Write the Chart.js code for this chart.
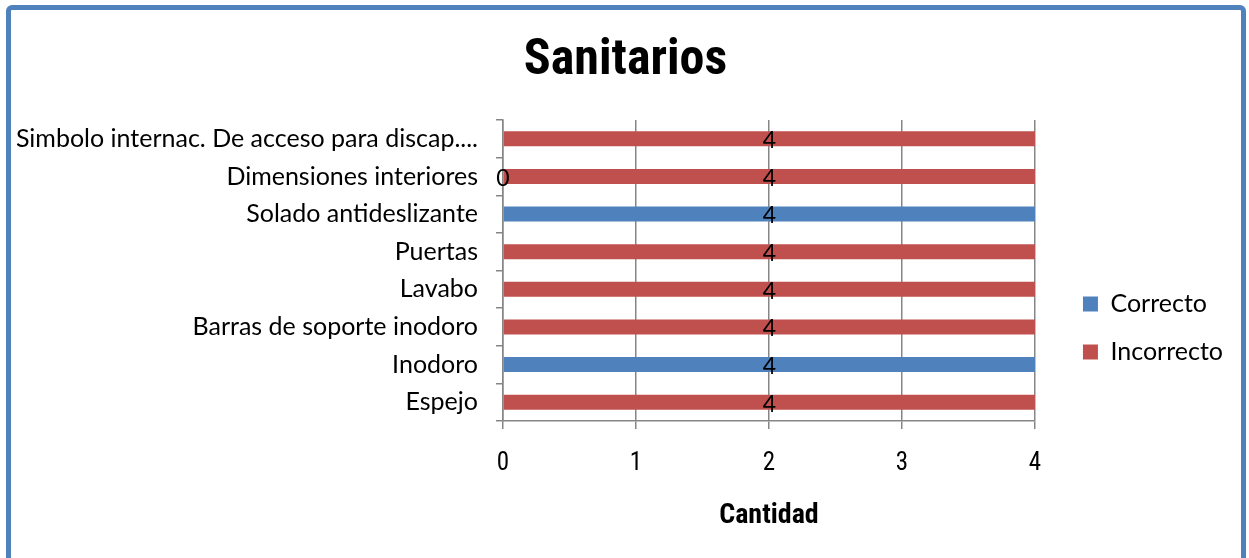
<!DOCTYPE html>
<html>
<head>
<meta charset="utf-8">
<script src="https://cdn.jsdelivr.net/npm/chart.js@4.4.1/dist/chart.umd.min.js"></script>
<style>
  html, body { margin: 0; padding: 0; background: #fff; overflow: hidden; }
  #wrap { position: relative; width: 1249px; height: 558px; }
  #frame {
    position: absolute; left: 6px; top: 5px; width: 1240px; height: 600px;
    box-sizing: border-box; border: 5px solid #4F81BD; border-radius: 6px;
    pointer-events: none;
  }
</style>
</head>
<body>
<div id="wrap">
  <canvas id="sanChart" width="1249" height="558"></canvas>
  <div id="frame"></div>
</div>
<script>
const categories = [
  "Simbolo internac. De acceso para discap....",
  "Dimensiones interiores",
  "Solado antideslizante",
  "Puertas",
  "Lavabo",
  "Barras de soporte inodoro",
  "Inodoro",
  "Espejo"
];
const correcto   = [null, 0, 4, null, null, null, 4, null];
const incorrecto = [4, 4, null, 4, 4, 4, null, 4];
const xTicks = [0, 1, 2, 3, 4];

const narrow = '"Roboto Condensed", Roboto, sans-serif';
const body = 'Lato, "Open Sans", sans-serif';

// value labels in the middle of each bar, like the Excel data labels
const valueLabels = {
  id: 'valueLabels',
  afterDatasetsDraw(chart) {
    const ctx = chart.ctx;
    ctx.save();
    ctx.font = '23px ' + body;
    ctx.fillStyle = '#000';
    ctx.textAlign = 'center';
    ctx.textBaseline = 'middle';
    chart.data.datasets.forEach((ds, i) => {
      chart.getDatasetMeta(i).data.forEach((bar, j) => {
        const v = ds.data[j];
        if (v === null || v === undefined) return;
        ctx.fillText(String(v), (bar.x + bar.base) / 2, bar.y + 2);
      });
    });
    ctx.restore();
  }
};

// nudge the chart title so it sits centred on the whole frame
const titleShift = {
  id: 'titleShift',
  afterLayout(chart) {
    if (chart.titleBlock) chart.titleBlock.left += 18;
  }
};

const ctx = document.getElementById('sanChart').getContext('2d');

new Chart(ctx, {
  type: 'bar',
  data: {
    labels: categories,
    datasets: [
      {
        label: 'Correcto',
        data: correcto,
        backgroundColor: '#4F81BD',
        yAxisID: 'y',
        barPercentage: 0.4,
        categoryPercentage: 1
      },
      {
        label: 'Incorrecto',
        data: incorrecto,
        backgroundColor: '#C0504D',
        yAxisID: 'y',
        barPercentage: 0.4,
        categoryPercentage: 1
      }
    ]
  },
  options: {
    indexAxis: 'y',
    responsive: false,
    animation: false,
    devicePixelRatio: 1,
    layout: { padding: { left: 0, right: 16, top: 0, bottom: 0 } },
    scales: {
      x: {
        stacked: true,
        min: 0,
        max: 4,
        afterBuildTicks: s => { s.ticks = xTicks.map(v => ({ value: v })); },
        afterFit: s => { s.height = 137; },
        grid: { color: '#868686', lineWidth: 1.5, tickLength: 8 },
        border: { color: '#868686', width: 1.5 },
        ticks: { color: '#000', padding: 20, font: { family: narrow, size: 25 } },
        title: {
          display: true,
          text: 'Cantidad',
          color: '#000',
          font: { family: narrow, size: 28, weight: 'bold' },
          padding: { top: 0, bottom: 25 }
        }
      },
      y: {
        stacked: true,
        afterFit: s => { s.width = 503; },
        grid: { drawOnChartArea: false, color: '#868686', lineWidth: 1.5, tickLength: 7, offset: true },
        border: { color: '#868686', width: 1.5 },
        ticks: { color: '#000', padding: 18, font: { family: body, size: 25 } }
      },
      yR: {
        type: 'category',
        position: 'right',
        grid: { display: false },
        border: { display: false },
        ticks: { display: false },
        afterFit: s => { s.width = 25; }
      }
    },
    plugins: {
      title: {
        display: true,
        text: 'Sanitarios',
        color: '#000',
        font: { family: narrow, size: 50, weight: 'bold' },
        padding: { top: 31, bottom: 29 }
      },
      legend: {
        position: 'right',
        align: 'center',
        title: { display: true, text: ' ', font: { size: 10 }, padding: { top: 86, bottom: 0 } },
        labels: {
          color: '#000',
          boxWidth: 15,
          boxHeight: 15,
          padding: 23,
          font: { family: body, size: 25 }
        }
      },
      tooltip: { enabled: false }
    }
  },
  plugins: [valueLabels, titleShift]
});
</script>
</body>
</html>
